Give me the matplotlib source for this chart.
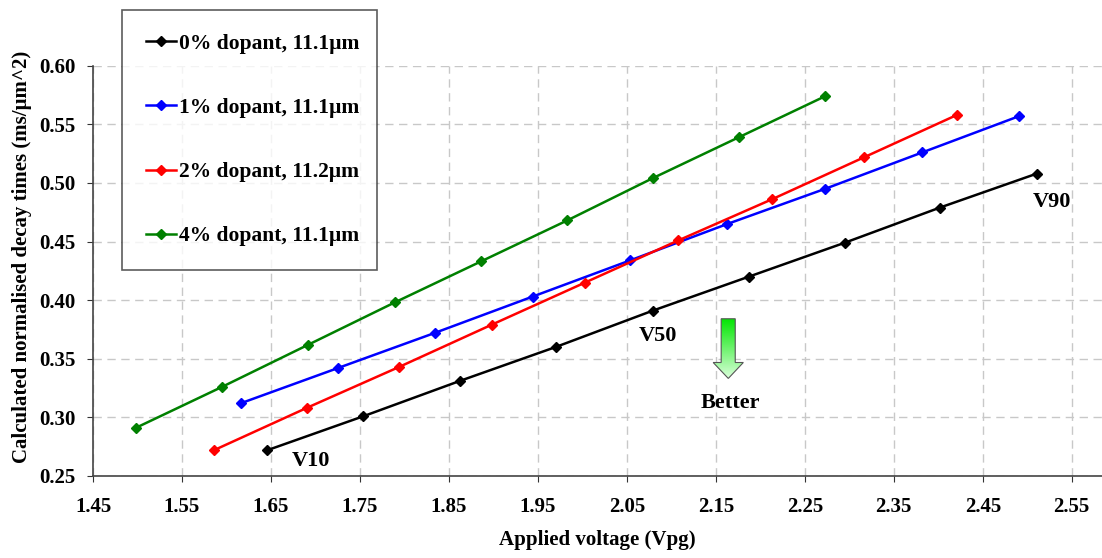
import numpy as np
import matplotlib
matplotlib.use("Agg")
import matplotlib.pyplot as plt
from matplotlib.patches import Polygon

plt.rcParams['font.family'] = ['Liberation Serif', 'DejaVu Serif']
plt.rcParams['font.weight'] = 'bold'

# data
x0 = [1.646, 1.754, 1.862, 1.970, 2.079, 2.187, 2.295, 2.402, 2.511]
y0 = [0.272, 0.301, 0.331, 0.360, 0.391, 0.420, 0.449, 0.479, 0.508]
x1 = [1.616, 1.725, 1.834, 1.944, 2.054, 2.163, 2.273, 2.382, 2.491]
y1 = [0.312, 0.342, 0.372, 0.403, 0.434, 0.465, 0.495, 0.526, 0.557]
x2 = [1.586, 1.690, 1.794, 1.898, 2.003, 2.108, 2.213, 2.317, 2.421]
y2 = [0.272, 0.308, 0.343, 0.379, 0.415, 0.451, 0.486, 0.522, 0.558]
x4 = [1.498, 1.595, 1.692, 1.789, 1.886, 1.983, 2.079, 2.176, 2.273]
y4 = [0.291, 0.326, 0.362, 0.398, 0.433, 0.468, 0.504, 0.539, 0.574]

labels = ['0% dopant, 11.1µm', '1% dopant, 11.1µm',
          '2% dopant, 11.2µm', '4% dopant, 11.1µm']
colors = ['black', 'blue', 'red', 'green']
xticks = [1.45, 1.55, 1.65, 1.75, 1.85, 1.95, 2.05, 2.15, 2.25, 2.35, 2.45, 2.55]
yticks = [0.25, 0.30, 0.35, 0.40, 0.45, 0.50, 0.55, 0.60]

fig = plt.figure(figsize=(11.02, 5.58), dpi=100)
ax = fig.add_axes([0.0844, 0.147, 0.9156, 0.7353])

series = [(x0, y0), (x1, y1), (x2, y2), (x4, y4)]
for (xs, ys), c, lab in zip(series, colors, labels):
    ax.plot(xs, ys, color=c, lw=1.8, marker='D', ms=5, label=lab)

ax.set_xlim(1.45, 2.584)
ax.set_ylim(0.25, 0.60)
ax.set_xticks(xticks)
ax.set_yticks(yticks)
ax.set_xticklabels(['%.2f' % v for v in xticks])
ax.set_yticklabels(['%.2f' % v for v in yticks])
ax.tick_params(labelsize=15, direction='out', length=4.3, color='#333333')
ax.tick_params(axis='x', pad=11)
ax.tick_params(axis='y', pad=8)
ax.grid(True, color='#c8c8c8', ls=(0, (6, 4)), lw=1)
ax.set_axisbelow(True)
for s in ['top', 'right']:
    ax.spines[s].set_visible(False)
for s in ['left', 'bottom']:
    ax.spines[s].set_color('#444444')
    ax.spines[s].set_linewidth(1.2)

ax.set_xlabel('Applied voltage (Vpg)', fontsize=15, fontweight='bold', labelpad=9)
ax.set_ylabel('Calculated normalised decay times (ms/µm^2)', fontsize=15,
              fontweight='bold')
ax.yaxis.set_label_coords(-0.060, 0.534)

leg = ax.legend(loc='upper left',
                bbox_to_anchor=(122 / 1102, 1 - 272 / 558, 255 / 1102, 262 / 558),
                bbox_transform=fig.transFigure, mode='expand', fontsize=15.5,
                frameon=True, fancybox=False, labelspacing=2.05, handlelength=1.4,
                handletextpad=0.15, borderpad=1.1, borderaxespad=0)
leg.get_frame().set_edgecolor('#333333')
leg.get_frame().set_linewidth(1.2)

kw = dict(fontsize=16, fontweight='bold', ha='center', va='center')
ax.text(1.695, 0.263, 'V10', **kw)
ax.text(2.085, 0.369, 'V50', **kw)
ax.text(2.528, 0.484, 'V90', **kw)
ax.text(2.166, 0.312, 'Better', **kw)

# gradient arrow
arrow = Polygon([(2.156, 0.3841), (2.1718, 0.3841), (2.1718, 0.3468),
                 (2.1809, 0.3468), (2.164, 0.3332), (2.147, 0.3468),
                 (2.156, 0.3468)], closed=True, fc='none', ec='#555555',
                lw=0.8, zorder=4)
ax.add_patch(arrow)
grad = np.linspace(0, 1, 100).reshape(-1, 1)
top = np.array([0.0, 0.9, 0.0])
bot = np.array([0.85, 1.0, 0.85])
img = top + grad[..., None] * (bot - top)
im = ax.imshow(img.reshape(100, 1, 3), extent=(2.147, 2.1809, 0.3332, 0.3841),
               origin='upper', aspect='auto', zorder=3)
im.set_clip_path(arrow)
ax.set_xlim(1.45, 2.584)
ax.set_ylim(0.25, 0.60)

fig.savefig('out.png', dpi=100)
